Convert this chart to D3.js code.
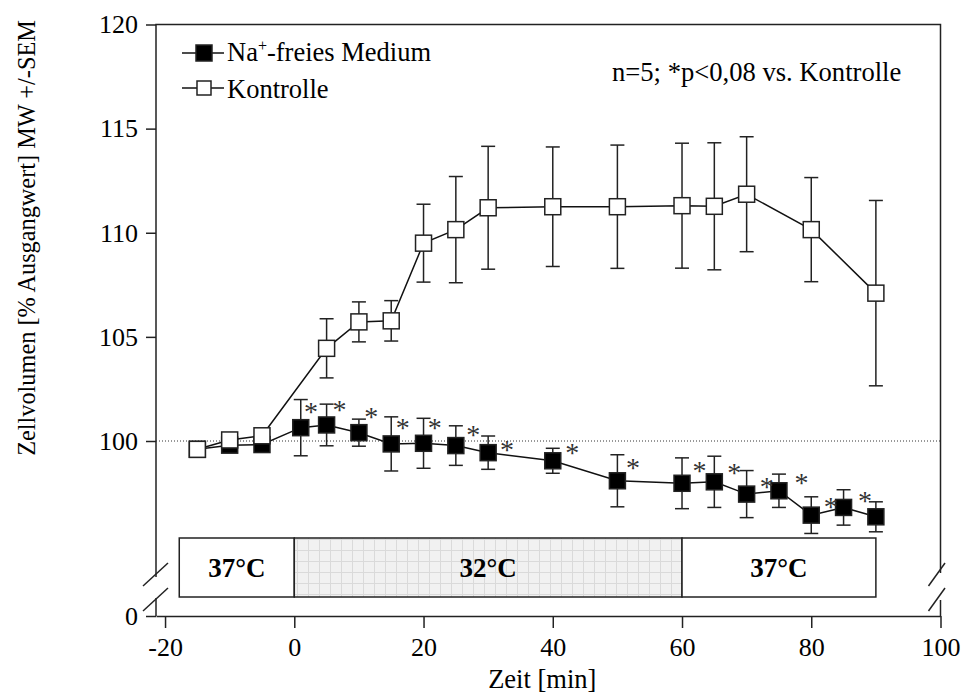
<!DOCTYPE html>
<html>
<head>
<meta charset="utf-8">
<script src="https://cdn.jsdelivr.net/npm/d3@7"></script>
<style>
    body { margin: 0; background: #fff; }
    svg { font-family: "Liberation Serif", "Times New Roman", serif; }
    .axis line, .axis path { stroke: #222; stroke-width: 1.5; }
</style>
</head>
<body>
<svg></svg>
<script>
// Kontrolle (open squares)
const timeK = [-15, -10, -5, 5, 10, 15, 20, 25, 30, 40, 50, 60, 65, 70, 80, 90];
const kontrolle = [99.6, 100.05, 100.25, 104.45, 105.72, 105.77, 109.5, 110.15, 111.2, 111.25, 111.25, 111.3, 111.27, 111.85, 110.15, 107.1];
const semK = [0.15, 0.15, 0.2, 1.42, 0.96, 0.97, 1.87, 2.55, 2.95, 2.87, 2.96, 3.0, 3.05, 2.76, 2.5, 4.45];

// Na+-freies Medium (filled squares)
const timeN = [-15, -10, -5, 1, 5, 10, 15, 20, 25, 30, 40, 50, 60, 65, 70, 75, 80, 85, 90];
const natrium = [99.6, 99.8, 99.83, 100.64, 100.77, 100.4, 99.86, 99.89, 99.78, 99.44, 99.05, 98.09, 97.97, 98.04, 97.45, 97.61, 96.44, 96.81, 96.36];
const semN = [0.1, 0.15, 0.15, 1.35, 1.0, 0.65, 1.3, 1.2, 0.95, 0.8, 0.6, 1.25, 1.22, 1.23, 1.13, 0.8, 0.88, 0.85, 0.72];

// significance stars (data coordinates)
const starT = [2.6, 7.0, 11.9, 16.8, 21.75, 27.7, 32.9, 43.0, 52.4, 62.7, 68.1, 73.1, 78.5, 83.0, 88.3];
const starV = [101.65, 101.73, 101.41, 100.85, 100.85, 100.53, 99.81, 99.66, 98.94, 98.8, 98.7, 98.03, 98.2, 97.07, 97.36];

// temperature phases
const phaseFrom = [-17.8, 0, 60];
const phaseTo = [0, 60, 90];
const phaseLabel = ["37°C", "32°C", "37°C"];

const xTicks = [-20, 0, 20, 40, 60, 80, 100];
const yTicks = [100, 105, 110, 115, 120];

const width = 963, height = 693;
const plotLeft = 156, plotRight = 940.5, plotTop = 24.5, plotBase = 616;

const svg = d3.select('svg').attr('width', width).attr('height', height);

const x = d3.scaleLinear().domain([-21.4, 100]).range([plotLeft, plotRight]);
const y = d3.scaleLinear().domain([100, 120]).range([441, plotTop]);
const yLow = d3.scaleLinear().domain([0, 1]).range([plotBase, plotBase - 20]);
const plain = d => String(d);

function styleAxis(g) {
    g.attr('font-family', null).attr('font-size', null);
    g.selectAll('text')
        .style('font-family', '"Liberation Serif", "Times New Roman", serif')
        .style('font-size', '26px')
        .attr('fill', '#000');
}

// pattern for the 32°C phase
const pat = svg.append('defs').append('pattern')
    .attr('id', 'grid')
    .attr('width', 11).attr('height', 11)
    .attr('patternUnits', 'userSpaceOnUse');
pat.append('rect').attr('width', 11).attr('height', 11).attr('fill', '#f1f1f1');
pat.append('path').attr('d', 'M0,0.5H11M0.5,0V11').attr('stroke', '#dadada').attr('stroke-width', 1);

// frame with breaks
const frame = svg.append('g').attr('stroke', '#222').attr('stroke-width', 1.5).attr('fill', 'none');
frame.append('path').attr('d', `M${plotLeft},577V${plotTop}H${plotRight}V573`);
frame.append('path').attr('d', `M${plotLeft},598V${plotBase}`);
frame.append('path').attr('d', `M${plotRight},600V${plotBase}`);
[[plotLeft - 13, plotLeft + 12], [plotRight - 12, plotRight + 4.5]].forEach(([a, b]) => {
    frame.append('line').attr('x1', a).attr('y1', 586).attr('x2', b).attr('y2', 563);
    frame.append('line').attr('x1', a).attr('y1', 611).attr('x2', b).attr('y2', 588);
});

// axes
svg.append('g')
    .attr('class', 'axis')
    .attr('transform', `translate(0,${plotBase})`)
    .call(d3.axisBottom(x).tickValues(xTicks).tickFormat(plain).tickSizeInner(12).tickSizeOuter(0).tickPadding(10))
    .call(styleAxis);

svg.append('g')
    .attr('class', 'axis')
    .attr('transform', `translate(${plotLeft},0)`)
    .call(d3.axisLeft(y).tickValues(yTicks).tickFormat(plain).tickSize(10).tickPadding(8))
    .call(g => g.select('.domain').remove())
    .call(styleAxis);

svg.append('g')
    .attr('class', 'axis')
    .attr('transform', `translate(${plotLeft},0)`)
    .call(d3.axisLeft(yLow).tickValues([0]).tickFormat(plain).tickSize(10).tickPadding(8))
    .call(g => g.select('.domain').remove())
    .call(styleAxis);

// axis titles
svg.append('text')
    .attr('x', (plotLeft + plotRight) / 2 - 6)
    .attr('y', 687.5)
    .attr('text-anchor', 'middle')
    .attr('font-size', '26.5px')
    .text('Zeit [min]');

svg.append('text')
    .attr('transform', 'translate(35,238) rotate(-90)')
    .attr('text-anchor', 'middle')
    .attr('font-size', '24.3px')
    .text('Zellvolumen [% Ausgangwert] MW +/-SEM');

// 100% reference line
svg.append('line')
    .attr('x1', plotLeft).attr('x2', plotRight)
    .attr('y1', y(100)).attr('y2', y(100))
    .attr('stroke', '#333').attr('stroke-width', 1)
    .attr('stroke-dasharray', '1,2');

// temperature band
const band = svg.append('g').attr('class', 'band');
band.selectAll('rect')
    .data(phaseLabel)
    .enter()
    .append('rect')
    .attr('x', (d, i) => x(phaseFrom[i]))
    .attr('width', (d, i) => x(phaseTo[i]) - x(phaseFrom[i]))
    .attr('y', 538)
    .attr('height', 59)
    .attr('fill', (d, i) => i === 1 ? 'url(#grid)' : '#fff')
    .attr('stroke', '#222')
    .attr('stroke-width', 1.5);
band.selectAll('text')
    .data(phaseLabel)
    .enter()
    .append('text')
    .attr('x', (d, i) => (x(phaseFrom[i]) + x(phaseTo[i])) / 2)
    .attr('y', 577)
    .attr('text-anchor', 'middle')
    .attr('font-size', '27px')
    .attr('font-weight', 'bold')
    .text(d => d);

function drawSeries(times, values, sems, fill, cls) {
    const pts = times.map((t, i) => ({ t: t, v: values[i], s: sems[i] }));
    const g = svg.append('g').attr('class', cls);

    const err = g.append('g').attr('stroke', '#222').attr('stroke-width', 1.5);
    err.selectAll('line.bar')
        .data(pts)
        .enter()
        .append('line')
        .attr('class', 'bar')
        .attr('x1', d => x(d.t)).attr('x2', d => x(d.t))
        .attr('y1', d => y(d.v - d.s)).attr('y2', d => y(d.v + d.s));
    ['lo', 'hi'].forEach(k => {
        err.selectAll('line.' + k)
            .data(pts)
            .enter()
            .append('line')
            .attr('class', k)
            .attr('x1', d => x(d.t) - 7).attr('x2', d => x(d.t) + 7)
            .attr('y1', d => y(k === 'lo' ? d.v - d.s : d.v + d.s))
            .attr('y2', d => y(k === 'lo' ? d.v - d.s : d.v + d.s));
    });

    g.append('path')
        .datum(pts)
        .attr('fill', 'none')
        .attr('stroke', '#111')
        .attr('stroke-width', 1.5)
        .attr('d', d3.line().x(d => x(d.t)).y(d => y(d.v)));

    g.selectAll('rect')
        .data(pts)
        .enter()
        .append('rect')
        .attr('x', d => x(d.t) - 8)
        .attr('y', d => y(d.v) - 8)
        .attr('width', 16)
        .attr('height', 16)
        .attr('fill', fill)
        .attr('stroke', '#222')
        .attr('stroke-width', 1.5);
}

drawSeries(timeN, natrium, semN, '#000', 'natrium');
drawSeries(timeK, kontrolle, semK, '#fff', 'kontrolle');

// stars
svg.append('g')
    .attr('class', 'stars')
    .selectAll('text')
    .data(starT)
    .enter()
    .append('text')
    .attr('x', d => x(d))
    .attr('y', (d, i) => y(starV[i]) + 14)
    .attr('text-anchor', 'middle')
    .attr('font-size', '28px')
    .attr('fill', '#333')
    .text('*');

// legend
const legend = svg.append('g').attr('class', 'legend');
const legendItems = [
    { y: 53, fill: '#000', size: 16 },
    { y: 88, fill: '#fff', size: 14 }
];
legendItems.forEach(item => {
    legend.append('line')
        .attr('x1', 182).attr('x2', 224)
        .attr('y1', item.y).attr('y2', item.y)
        .attr('stroke', '#111').attr('stroke-width', 1.5);
    legend.append('rect')
        .attr('x', 204 - item.size / 2).attr('y', item.y - item.size / 2)
        .attr('width', item.size).attr('height', item.size)
        .attr('fill', item.fill)
        .attr('stroke', '#222').attr('stroke-width', 1.5);
});
const naText = legend.append('text').attr('x', 227).attr('y', 61).attr('font-size', '26.5px');
naText.append('tspan').text('Na');
naText.append('tspan').attr('dy', -10).attr('font-size', '16px').text('+');
naText.append('tspan').attr('dy', 10).text('-freies Medium');
legend.append('text').attr('x', 227).attr('y', 98).attr('font-size', '26.5px').text('Kontrolle');

svg.append('text')
    .attr('x', 612)
    .attr('y', 81)
    .attr('font-size', '26.6px')
    .text('n=5; *p<0,08 vs. Kontrolle');
</script>
</body>
</html>
